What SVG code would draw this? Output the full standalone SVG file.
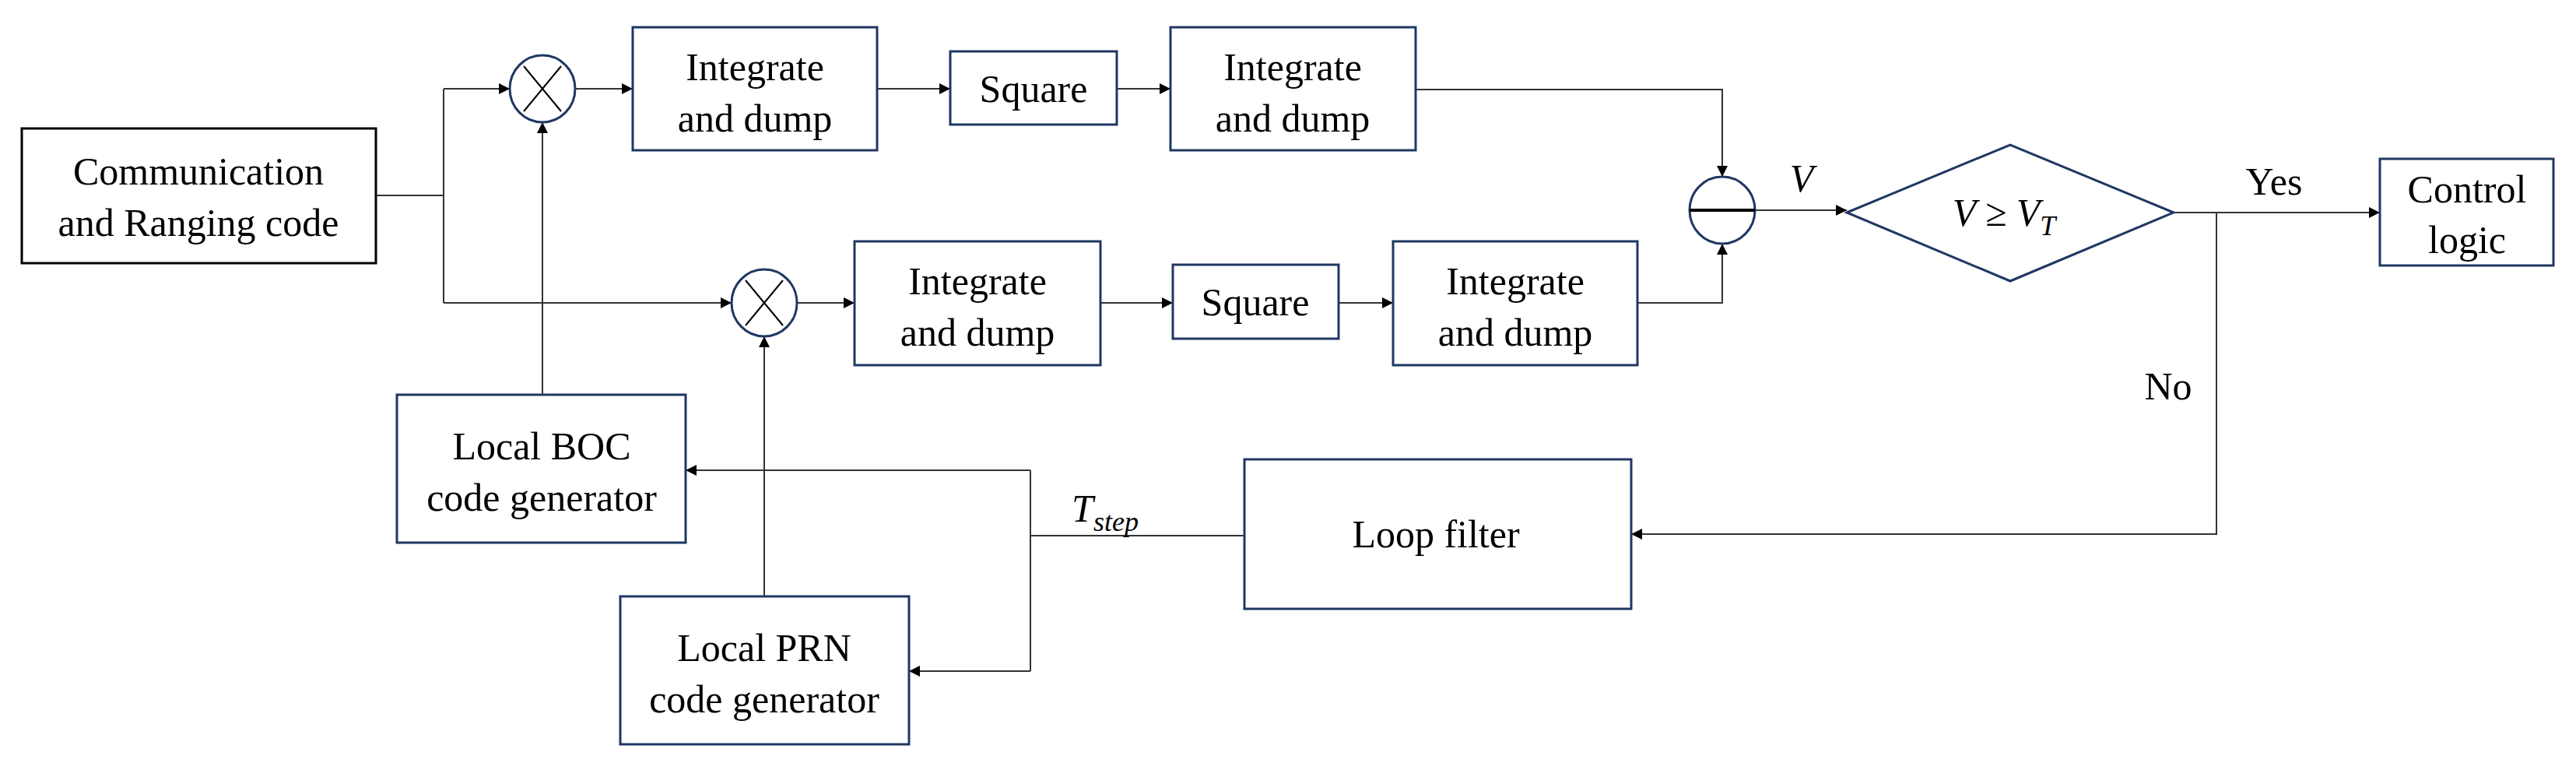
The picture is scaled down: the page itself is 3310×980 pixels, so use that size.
<svg xmlns="http://www.w3.org/2000/svg" width="3310" height="980" viewBox="0 0 3310 980">
<style>
.b{fill:#fff;stroke:#1f3763;stroke-width:3}
.k{fill:#fff;stroke:#000;stroke-width:3}
.t{font-family:"Liberation Serif",serif;font-size:50px;fill:#000;text-anchor:middle}
.i{font-style:italic}
.c{fill:none;stroke:#333;stroke-width:2}
.x{stroke:#000;stroke-width:2;fill:none}
</style>
<defs><marker id="a" viewBox="0 0 10 10" refX="10" refY="5" markerWidth="14" markerHeight="14" markerUnits="userSpaceOnUse" orient="auto"><path d="M0,0 L10,5 L0,10 z" fill="#000"/></marker></defs>
<g id="connectors">
<path class="c" d="M483,251 H570 M570,114 V389"/>
<path class="c" d="M570,114 H655" marker-end="url(#a)"/>
<path class="c" d="M570,389 H940" marker-end="url(#a)"/>
<path class="c" d="M739,114 H813" marker-end="url(#a)"/>
<path class="c" d="M1127,114 H1221" marker-end="url(#a)"/>
<path class="c" d="M1435,114 H1504" marker-end="url(#a)"/>
<path class="c" d="M1024,389 H1098" marker-end="url(#a)"/>
<path class="c" d="M1414,389 H1507" marker-end="url(#a)"/>
<path class="c" d="M1720,389 H1790" marker-end="url(#a)"/>
<path class="c" d="M1819,115 H2213 V227" marker-end="url(#a)"/>
<path class="c" d="M2104,389 H2213 V313" marker-end="url(#a)"/>
<path class="c" d="M2255,270 H2373" marker-end="url(#a)"/>
<path class="c" d="M2793,273 H3058" marker-end="url(#a)"/>
<path class="c" d="M2848,273 V686 H2096" marker-end="url(#a)"/>
<path class="c" d="M697,507 V157" marker-end="url(#a)"/>
<path class="c" d="M982,766 V432" marker-end="url(#a)"/>
<path class="c" d="M1599,688 H1324 M1324,604 V862"/>
<path class="c" d="M1324,604 H881" marker-end="url(#a)"/>
<path class="c" d="M1324,862 H1168" marker-end="url(#a)"/>
</g>
<g id="comm"><rect class="k" x="28" y="165" width="455" height="173"/><text class="t" x="255" y="237">Communication</text><text class="t" x="255" y="303">and Ranging code</text></g>
<g id="mix1"><ellipse class="b" cx="697" cy="114" rx="42" ry="43"/><path class="x" d="M673,85 L721,143 M721,85 L673,143"/></g>
<g id="mix2"><ellipse class="b" cx="982" cy="389" rx="42" ry="43"/><path class="x" d="M958,360 L1006,418 M1006,360 L958,418"/></g>
<g id="int1"><rect class="b" x="813" y="35" width="314" height="158"/><text class="t" x="970" y="103">Integrate</text><text class="t" x="970" y="169">and dump</text></g>
<g id="sq1"><rect class="b" x="1221" y="66" width="214" height="94"/><text class="t" x="1328" y="131">Square</text></g>
<g id="int2"><rect class="b" x="1504" y="35" width="315" height="158"/><text class="t" x="1661" y="103">Integrate</text><text class="t" x="1661" y="169">and dump</text></g>
<g id="int3"><rect class="b" x="1098" y="310" width="316" height="159"/><text class="t" x="1256" y="378">Integrate</text><text class="t" x="1256" y="444">and dump</text></g>
<g id="sq2"><rect class="b" x="1507" y="340" width="213" height="95"/><text class="t" x="1613" y="405">Square</text></g>
<g id="int4"><rect class="b" x="1790" y="310" width="314" height="159"/><text class="t" x="1947" y="378">Integrate</text><text class="t" x="1947" y="444">and dump</text></g>
<g id="sub"><ellipse class="b" cx="2213" cy="270" rx="42" ry="43"/><path d="M2171,270 H2255" stroke="#000" stroke-width="4"/></g>
<g id="dec"><path class="b" d="M2373,273 L2583,186 L2793,273 L2583,361 Z"/><text class="t i" x="2575" y="290">V ≥ V<tspan font-size="36" dy="12">T</tspan></text></g>
<g id="ctrl"><rect class="b" x="3058" y="204" width="223" height="137"/><text class="t" x="3170" y="260">Control</text><text class="t" x="3170" y="325">logic</text></g>
<g id="boc"><rect class="b" x="510" y="507" width="371" height="190"/><text class="t" x="696" y="590">Local BOC</text><text class="t" x="696" y="656">code generator</text></g>
<g id="prn"><rect class="b" x="797" y="766" width="371" height="190"/><text class="t" x="982" y="849">Local PRN</text><text class="t" x="982" y="915">code generator</text></g>
<g id="loop"><rect class="b" x="1599" y="590" width="497" height="192"/><text class="t" x="1845" y="703">Loop filter</text></g>
<g id="labels">
<text class="t i" x="1420" y="670">T<tspan font-size="36" dy="12">step</tspan></text>
<text class="t i" x="2315" y="246">V</text>
<text class="t" x="2922" y="250">Yes</text>
<text class="t" x="2786" y="513">No</text>
</g>
</svg>
